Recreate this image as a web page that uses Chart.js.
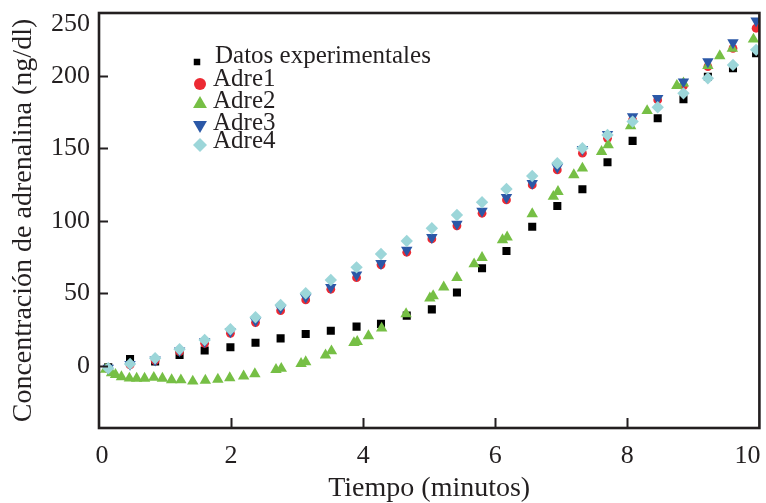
<!DOCTYPE html>
<html><head><meta charset="utf-8">
<script src="https://cdn.jsdelivr.net/npm/chart.js@4.4.1/dist/chart.umd.min.js"></script>
<style>html,body{margin:0;padding:0;background:#fff}#wrap{width:766px;height:503px;position:relative}</style>
</head><body><div id="wrap"><canvas id="c"></canvas></div>
<script>
// ---- data ----
const tiempo = [0.14, 0.47, 0.85, 1.22, 1.6, 1.99, 2.37, 2.75, 3.13, 3.51, 3.9, 4.27, 4.66, 5.04, 5.42, 5.8, 6.17, 6.56, 6.94, 7.32, 7.7, 8.08, 8.46, 8.85, 9.22, 9.6, 9.95];
const datosExp = [-1, 4.8, 3, 7.6, 10.6, 12.9, 16, 19, 22, 24.3, 27.1, 29, 34.7, 39, 50.6, 67.4, 79.3, 96, 110.3, 121.8, 140.5, 155.2, 170.8, 183.9, 199.5, 205.3, 215.6];
const adre1 = [-2, 0.7, 3.7, 9.9, 15.6, 22.5, 29.9, 38.1, 45.5, 52.9, 60.9, 69.7, 78.4, 87.6, 96.6, 105.3, 114.5, 124.8, 135.2, 146.7, 157, 169.7, 183.4, 193.1, 206.4, 219, 232.9];
const adre3 = [-1.5, 1.2, 4.2, 10.5, 16.8, 23.7, 31.2, 39.8, 47.4, 54.3, 62.8, 70.8, 80, 88.7, 97.9, 106.9, 116.3, 126, 137, 149.4, 159.8, 172, 184.6, 196, 209.9, 223, 238.1];
const adre4 = [-1.6, 1.4, 5.3, 11.5, 17.9, 25.3, 33.6, 42, 50.1, 59.3, 68, 77.2, 86.2, 95, 104.1, 112.9, 122, 131, 139.8, 150.1, 159.3, 168.5, 178.4, 188, 198.4, 207.6, 218];
const tiempoAdre2 = [0.1, 0.19, 0.25, 0.34, 0.46, 0.57, 0.69, 0.83, 0.96, 1.1, 1.24, 1.42, 1.61, 1.8, 1.98, 2.19, 2.36, 2.68, 2.76, 3.06, 3.13, 3.43, 3.52, 3.86, 3.91, 4.08, 4.28, 4.65, 5.01, 5.06, 5.22, 5.42, 5.68, 5.8, 6.11, 6.18, 6.56, 6.88, 6.95, 7.19, 7.32, 7.61, 7.71, 8.05, 8.3, 8.75, 8.85, 9.22, 9.4, 9.59, 9.91];
const adre2 = [-2.5, -4.8, -6, -7.6, -8.5, -8.6, -8.6, -8, -8.6, -9.6, -9.7, -10.6, -10, -9.3, -8.2, -7, -5.5, -2.6, -1.8, 1.6, 2.8, 7.4, 10.3, 16, 16.8, 20.7, 26, 35.9, 46.7, 48.3, 54.3, 60.9, 70.3, 74.7, 86.9, 88.8, 104.8, 116.8, 120.2, 131.7, 136.3, 147.8, 152.4, 165.5, 176, 193.3, 195, 207, 213.8, 219, 225.3];
const seriesNames = ['Datos experimentales', 'Adre1', 'Adre2', 'Adre3', 'Adre4'];
const xTicks = [0, 2, 4, 6, 8, 10];
const yTicks = [0, 50, 100, 150, 200];
const yTopLabel = '250';
const xTitle = 'Tiempo (minutos)';
const yTitle = 'Concentración de adrenalina (ng/dl)';

// ---- styles ----
const INK = '#231f20';
const FONT = '"Liberation Serif", "Times New Roman", serif';
const styles = [
  {color: '#000000', pointStyle: 'rect', radius: 5.7, rotation: 0, order: 5},
  {color: '#ec2a33', pointStyle: 'circle', radius: 4.4, rotation: 0, order: 4},
  {color: '#76bf45', pointStyle: 'triangle', radius: 6.6, rotation: 0, order: 3},
  {color: '#2b58a7', pointStyle: 'triangle', radius: 6.6, rotation: 180, order: 2},
  {color: '#9cd6d9', pointStyle: 'rectRot', radius: 6.2, rotation: 0, order: 1}
];
const pts = (xs, ys) => xs.map((x, i) => ({x: x, y: ys[i]}));
const seriesData = [pts(tiempo, datosExp), pts(tiempo, adre1), pts(tiempoAdre2, adre2), pts(tiempo, adre3), pts(tiempo, adre4)];

const datasets = seriesNames.map((name, i) => ({
  label: name,
  data: seriesData[i],
  showLine: false,
  order: styles[i].order,
  pointStyle: styles[i].pointStyle,
  pointRotation: styles[i].rotation,
  pointRadius: styles[i].radius,
  pointHoverRadius: styles[i].radius,
  pointBackgroundColor: styles[i].color,
  pointBorderWidth: 0,
  backgroundColor: styles[i].color,
  borderColor: styles[i].color
}));

function drawMarker(ctx, st, x, y, r) {
  ctx.fillStyle = st.color;
  ctx.beginPath();
  if (st.pointStyle === 'rect') {
    const s = r * Math.SQRT1_2;
    ctx.rect(x - s, y - s, 2 * s, 2 * s);
  } else if (st.pointStyle === 'circle') {
    ctx.arc(x, y, r, 0, Math.PI * 2);
  } else if (st.pointStyle === 'triangle') {
    let rad = st.rotation * Math.PI / 180;
    for (let k = 0; k < 3; k++) {
      const px = x + Math.sin(rad) * r, py = y - Math.cos(rad) * r;
      if (k === 0) ctx.moveTo(px, py); else ctx.lineTo(px, py);
      rad += 2 * Math.PI / 3;
    }
    ctx.closePath();
  } else if (st.pointStyle === 'rectRot') {
    ctx.moveTo(x - r, y); ctx.lineTo(x, y - r); ctx.lineTo(x + r, y); ctx.lineTo(x, y + r); ctx.closePath();
  }
  ctx.fill();
}

const decor = {
  id: 'decor',
  afterDatasetsDraw(chart) {
    const {ctx, chartArea: a, scales: {x, y}} = chart;
    ctx.save();
    ctx.strokeStyle = INK;
    ctx.lineWidth = 2;
    ctx.beginPath();
    yTicks.forEach(v => { const py = Math.round(y.getPixelForValue(v)) + 0.5; ctx.moveTo(a.left, py); ctx.lineTo(a.left + 9, py); });
    xTicks.slice(1, -1).forEach(v => { const px = Math.round(x.getPixelForValue(v)) + 0.5; ctx.moveTo(px, a.bottom); ctx.lineTo(px, a.bottom - 10); });
    ctx.stroke();
    ctx.lineWidth = 2.6;
    ctx.strokeRect(a.left, a.top, a.right - a.left, a.bottom - a.top);
    // x tick labels
    ctx.fillStyle = INK;
    ctx.font = '26px ' + FONT;
    ctx.textBaseline = 'alphabetic';
    xTicks.forEach((v, i) => {
      const px = x.getPixelForValue(v);
      if (i === xTicks.length - 1) { ctx.textAlign = 'right'; ctx.fillText(String(v), px + 1, 463); }
      else { ctx.textAlign = 'center'; ctx.fillText(String(v), px + (i === 0 ? 3 : 0), 463); }
    });
    // y top label (placed just below the frame top, as in the figure)
    ctx.textAlign = 'right';
    ctx.textBaseline = 'middle';
    ctx.fillText(yTopLabel, a.left - 9, a.top + 11);
    // legend
    const rowsY = [62, 84, 104, 125, 145];
    const baseY = [63, 86, 108, 130, 148];
    const legR = [4.6, 6, 8, 8, 7];
    ctx.font = '25px ' + FONT;
    ctx.textAlign = 'left';
    ctx.textBaseline = 'alphabetic';
    seriesNames.forEach((name, i) => {
      drawMarker(ctx, styles[i], i === 0 ? 197 : 200, rowsY[i], legR[i]);
      ctx.fillStyle = INK;
      ctx.fillText(name, i === 0 ? 215 : 213, baseY[i]);
    });
    ctx.restore();
  }
};

new Chart(document.getElementById('c'), {
  type: 'scatter',
  data: {datasets: datasets},
  plugins: [decor],
  options: {
    responsive: true,
    maintainAspectRatio: false,
    animation: false,
    layout: {padding: {left: 0, right: 4, top: 13, bottom: 0}},
    plugins: {legend: {display: false}, tooltip: {enabled: false}},
    scales: {
      x: {
        type: 'linear', min: 0, max: 10,
        grid: {display: false, drawTicks: false},
        border: {display: false},
        ticks: {display: false},
        title: {display: true, text: xTitle, color: INK, font: {family: FONT, size: 28, lineHeight: 1}, padding: {top: 1, bottom: 0}},
        afterFit: s => { s.height = 75; s.paddingLeft = 0; s.paddingRight = 0; }
      },
      y: {
        type: 'linear', min: -42.8, max: 243.4,
        grid: {display: false, drawTicks: false},
        border: {display: false},
        afterBuildTicks: s => { s.ticks = yTicks.map(v => ({value: v})); },
        ticks: {
          autoSkip: false, padding: 9, color: INK,
          font: {family: FONT, size: 26}
        },
        title: {display: true, text: yTitle, color: INK, font: {family: FONT, size: 28, lineHeight: 1.2}, padding: {top: 7, bottom: 0}},
        afterFit: s => { s.width = 99; s.paddingTop = 0; s.paddingBottom = 0; }
      }
    }
  }
});
</script>
</body></html>
